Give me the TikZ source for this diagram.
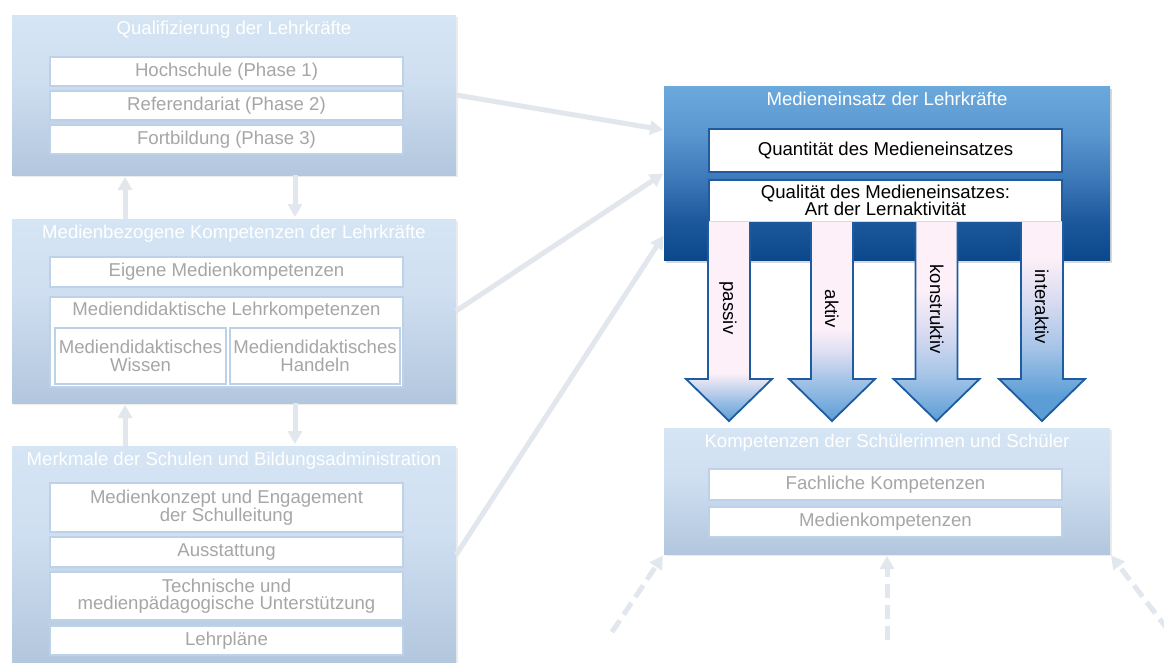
\documentclass[tikz,border=0pt]{standalone}
\usepackage{fontspec}
\setmainfont{Liberation Sans}
\usetikzlibrary{arrows.meta,shadows}

\definecolor{lbTop}{HTML}{D5E5F4}
\definecolor{lbMid}{HTML}{CFDFF1}
\definecolor{lbBot}{HTML}{B2C6DD}
\definecolor{subline}{HTML}{BDD2E9}
\definecolor{subtext}{HTML}{A6A6A6}
\definecolor{conncol}{HTML}{E2E7EE}
\definecolor{dTop}{HTML}{6AA9DC}
\definecolor{dA}{HTML}{5C98D0}
\definecolor{dB}{HTML}{3C77B8}
\definecolor{dC}{HTML}{1C579C}
\definecolor{dBot}{HTML}{0B488B}
\definecolor{qline}{HTML}{1F5B9E}
\definecolor{apink}{HTML}{FDF0F8}
\definecolor{alav}{HTML}{DCDDF2}
\definecolor{amid}{HTML}{A9C6E8}
\definecolor{ablue}{HTML}{5C9DD6}
\definecolor{aline}{HTML}{1D5CA0}
\definecolor{thinl}{HTML}{D0DCEB}

\pgfdeclareverticalshading{leftgrad}{100bp}{color(0bp)=(lbBot); color(25bp)=(lbBot); color(55bp)=(lbMid); color(75bp)=(lbTop); color(100bp)=(lbTop)}
\pgfdeclareverticalshading{darkgrad}{100bp}{color(0bp)=(dBot); color(25bp)=(dBot); color(36bp)=(dC); color(48bp)=(dB); color(62bp)=(dA); color(75bp)=(dTop); color(100bp)=(dTop)}
\pgfdeclareverticalshading{shPassiv}{100bp}{color(0bp)=(ablue); color(25bp)=(ablue); color(31bp)=(amid); color(37bp)=(apink); color(100bp)=(apink)}
\pgfdeclareverticalshading{shAktiv}{100bp}{color(0bp)=(ablue); color(25bp)=(ablue); color(36bp)=(amid); color(42bp)=(alav); color(48bp)=(apink); color(100bp)=(apink)}
\pgfdeclareverticalshading{shKonstr}{100bp}{color(0bp)=(ablue); color(25bp)=(ablue); color(37bp)=(amid); color(48bp)=(alav); color(58bp)=(apink); color(100bp)=(apink)}
\pgfdeclareverticalshading{shInter}{100bp}{color(0bp)=(ablue); color(25bp)=(ablue); color(31bp)=(ablue); color(44bp)=(amid); color(56bp)=(alav); color(66bp)=(apink); color(100bp)=(apink)}

\newcommand\blkarrow[2]{%
  \shade[shading=#2] ({#1-21},221) -- ({#1-21},379) -- ({#1-43},379) -- (#1,421) -- ({#1+43},379) -- ({#1+21},379) -- ({#1+21},221) -- cycle;
  \draw[aedge] ({#1-21},221) -- ({#1-21},379) -- ({#1-43},379) -- (#1,421) -- ({#1+43},379) -- ({#1+21},379) -- ({#1+21},221);
}

\begin{document}
\begin{tikzpicture}[x=1pt,y=-1pt,
  every node/.style={inner sep=0pt, outer sep=0pt, font=\fontsize{18.6}{17.5}\selectfont},
  one/.style={text height=13.3pt, text depth=3.5pt},
  bigbox/.style={shade, shading=leftgrad, minimum width=444pt,
    drop shadow={opacity=0.15, shadow xshift=1.5pt, shadow yshift=-2pt}},
  dbox/.style={shade, shading=darkgrad,
    drop shadow={opacity=0.3, shadow xshift=1.5pt, shadow yshift=-2.5pt}},
  ttl/.style={one, text=white},
  sub/.style={draw=subline, line width=1.8pt, fill=white, text=subtext, minimum width=353pt},
  subtxt/.style={text=subtext},
  qbox/.style={draw=qline, line width=1.8pt, fill=white, text=black, minimum width=353pt},
  qedge/.style={draw=qline, line width=1.8pt},
  aedge/.style={draw=aline, line width=1.8pt, line join=miter},
  alabel/.style={one, rotate=-90, text=black},
  conn/.style={draw=conncol, line width=5pt, -{Triangle[width=14pt,length=13pt]}, shorten >=2pt},
  dconn/.style={conn, dash pattern=on 14pt off 7pt}
]
\useasboundingbox[fill=white] (0,0) rectangle (1164,662);

% ---------- left column ----------
\node[bigbox, minimum height=160pt] (B1) at (234,95) {};
\node[ttl] (B1t) at (234,30) {Qualifizierung der Lehrkräfte};
\node[sub, one, minimum height=29pt] (H1) at (226.5,71.5) {Hochschule (Phase 1)};
\node[sub, one, minimum height=29pt] (H2) at (226.5,105.5) {Referendariat (Phase 2)};
\node[sub, one, minimum height=29pt] (H3) at (226.5,139.5) {Fortbildung (Phase 3)};

\node[bigbox, minimum height=184pt] (B2) at (234,311) {};
\node[ttl] (B2t) at (234,234) {Medienbezogene Kompetenzen der Lehrkräfte};
\node[sub, one, minimum height=30pt] (E1) at (226.5,272) {Eigene Medienkompetenzen};
\node[sub, minimum height=90pt] (ML) at (226.5,342) {};
\node[subtxt, one] (MLt) at (226.5,311) {Mediendidaktische Lehrkompetenzen};
\node[sub, align=center, minimum width=171pt, minimum height=56pt] (W) at (140.5,356) {Mediendidaktisches\\Wissen};
\node[sub, align=center, minimum width=170pt, minimum height=56pt] (Hd) at (315,356) {Mediendidaktisches\\Handeln};

\node[bigbox, minimum height=218pt] (B3) at (234,555) {};
\node[ttl] (B3t) at (234,461) {Merkmale der Schulen und Bildungsadministration};
\node[sub, align=center, minimum height=49pt] (M1) at (226.5,507.5) {Medienkonzept und Engagement\\der Schulleitung};
\node[sub, one, minimum height=30pt] (M2) at (226.5,552) {Ausstattung};
\node[sub, align=center, minimum height=48pt] (M3) at (226.5,596) {Technische und\\medienpädagogische Unterstützung};
\node[sub, one, minimum height=29pt] (M4) at (226.5,640.5) {Lehrpläne};

% ---------- right column ----------
\node[dbox, minimum width=446pt, minimum height=174pt] (D) at (887,173) {};
\node[ttl] (Dt) at (887,101) {Medieneinsatz der Lehrkräfte};
\node[qbox, one, minimum height=43pt] (Q1) at (885.5,150.5) {Quantität des Medieneinsatzes};
\node[fill=white, minimum width=353pt, minimum height=41pt, align=center] (Q2) at (885.5,200.5) {Qualität des Medieneinsatzes:\\Art der Lernaktivität};

\blkarrow{729}{shPassiv}
\blkarrow{832}{shAktiv}
\blkarrow{936.5}{shKonstr}
\blkarrow{1042}{shInter}

\draw[qedge] (Q2.south west) |- (Q2.north east) -- (Q2.south east);
\draw[draw=thinl, line width=0.6pt] (Q2.south west) -- (Q2.south east);

\node[alabel] (La) at (728,308) {passiv};
\node[alabel] (Lb) at (830,309) {aktiv};
\node[alabel] (Lc) at (935,309) {konstruktiv};
\node[alabel] (Ld) at (1040,307) {interaktiv};

\node[bigbox, minimum width=446pt, minimum height=126pt] (K) at (887,491) {};
\node[ttl] (Kt) at (887,443) {Kompetenzen der Schülerinnen und Schüler};
\node[sub, one, minimum height=31pt] (F1) at (885.5,484.5) {Fachliche Kompetenzen};
\node[sub, one, minimum height=30pt] (F2) at (885.5,522) {Medienkompetenzen};

% ---------- connectors ----------
\draw[conn] ([xshift=113pt]B2.north west) -- ([xshift=113pt]B1.south west);
\draw[conn] ([xshift=283pt]B1.south west) -- ([xshift=283pt]B2.north west);
\draw[conn] ([xshift=113pt]B3.north west) -- ([xshift=113pt]B2.south west);
\draw[conn] ([xshift=283pt]B2.south west) -- ([xshift=283pt]B3.north west);

\draw[conn, shorten >=1pt] (B1.east) -- ([yshift=-44pt]D.north west);
\draw[conn, shorten >=1pt] (B2.east) -- (D.west);
\draw[conn, shorten >=1pt] (B3.east) -- ([yshift=25pt]D.south west);

\coordinate (dl) at (612,632);
\coordinate (dm) at (887,640);
\coordinate (dr) at (1168,630);
\draw[dconn] (dl) -- (K.south west);
\draw[dconn] (dm) -- (K.south);
\draw[dconn] (dr) -- (K.south east);
\end{tikzpicture}
\end{document}
